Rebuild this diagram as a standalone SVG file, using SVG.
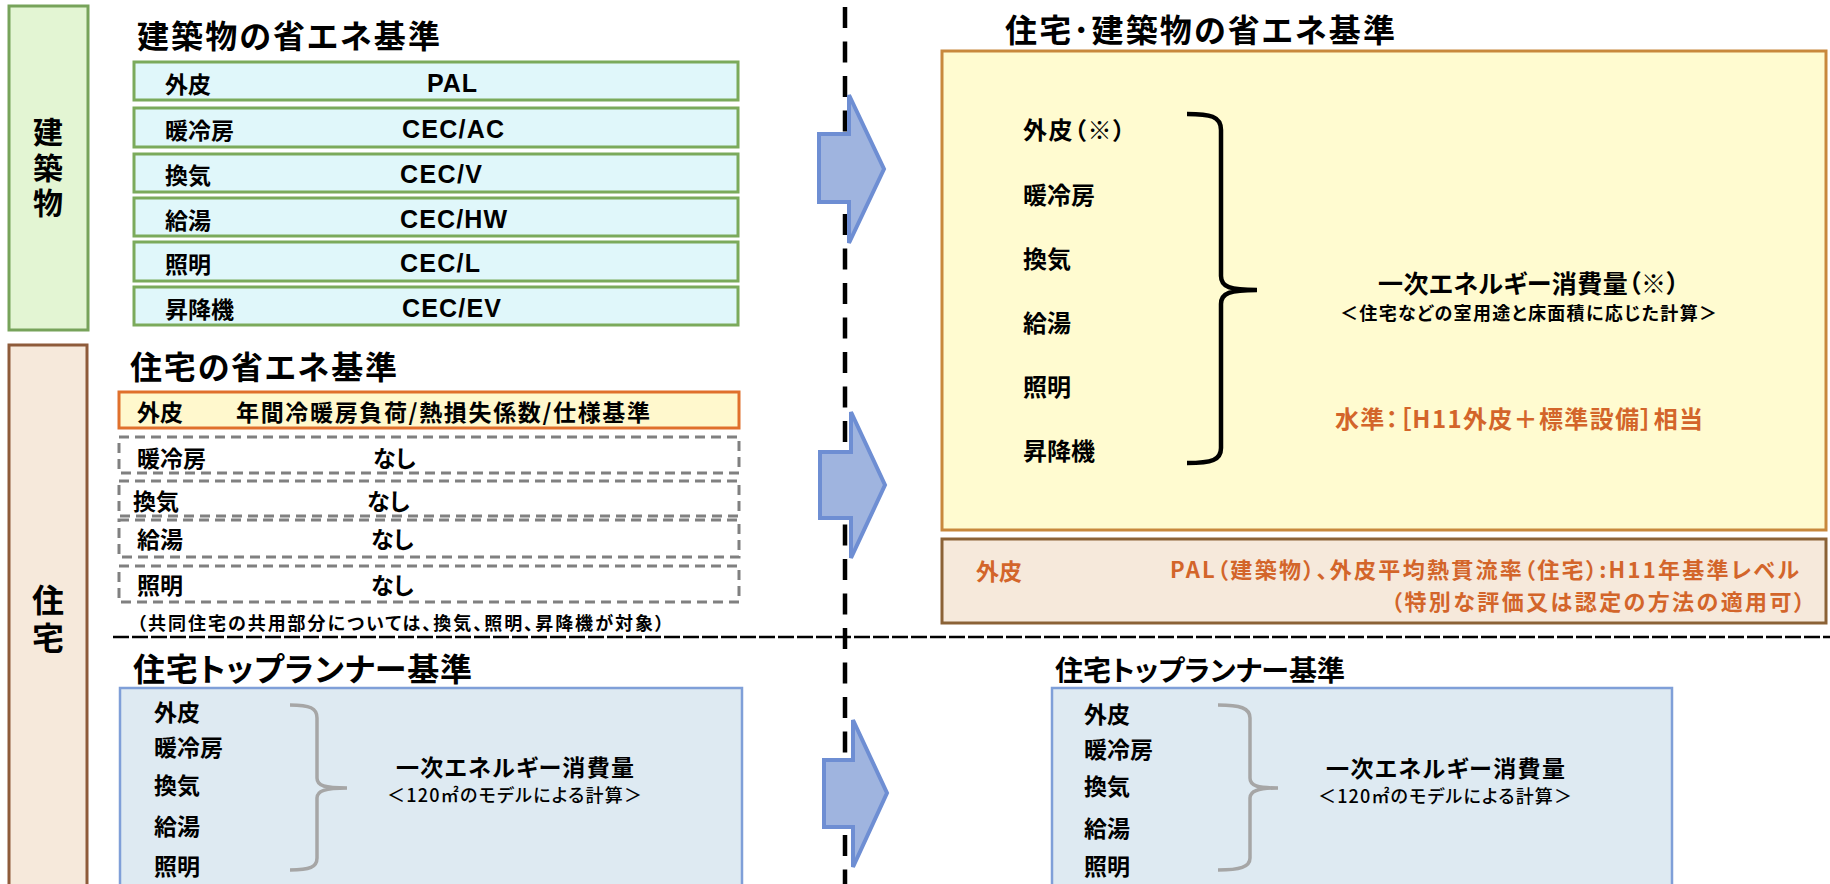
<svg xmlns="http://www.w3.org/2000/svg" width="1830" height="884" viewBox="0 0 1830 884">
<style>
text{font-family:'Noto Sans CJK JP','Noto Sans CJK SC',sans-serif;font-weight:700;fill:#000;dominant-baseline:central;font-feature-settings:"palt"}
.lat{font-family:'Liberation Sans',Arial,sans-serif;font-weight:700}
.or{fill:#D3652A}
.med{font-weight:500}
.title{font-size:32px}
.t22{font-size:22px}
.t23{font-size:23px}
.t24{font-size:24px}
.t18{font-size:18px}
.vert{writing-mode:vertical-rl;text-anchor:middle}
.grow{fill:#E0F7FA;stroke:#7BAA5B;stroke-width:3}
.drow{fill:#FFFFFF;stroke:#808080;stroke-width:3;stroke-dasharray:10 6}
.tbox{fill:#DEEAF2;stroke:#7F9FD8;stroke-width:2.5}
.gbrace{fill:none;stroke:#A6A6A6;stroke-width:3.5}
.arrow{fill:#9FB4DF;stroke:#6E8ED3;stroke-width:4;stroke-linejoin:miter}
</style>

<g id="label-building">
<rect x="9" y="6" width="79" height="324" fill="#E3F5D3" stroke="#77A35A" stroke-width="3"/>
<text class="vert" x="48" y="170" font-size="30" letter-spacing="5.5">建築物</text>
</g>

<g id="label-house">
<rect x="9" y="345" width="78" height="560" fill="#F6E9DB" stroke="#8E5B3A" stroke-width="3"/>
<text class="vert" x="48" y="622" font-size="32" letter-spacing="6">住宅</text>
</g>

<g id="dividers">
<line x1="845" y1="7" x2="845" y2="884" stroke="#000" stroke-width="4.5" stroke-dasharray="21 13.5"/>
<line x1="113" y1="637" x2="1830" y2="637" stroke="#000" stroke-width="2.5" stroke-dasharray="16 3"/>
</g>

<g id="building-standard">
<text class="title" x="137" y="34" textLength="303">建築物の省エネ基準</text>
<rect class="grow" x="134" y="62" width="604" height="38"/>
<rect class="grow" x="134" y="108" width="604" height="39"/>
<rect class="grow" x="134" y="154" width="604" height="38"/>
<rect class="grow" x="134" y="198" width="604" height="38"/>
<rect class="grow" x="134" y="242" width="604" height="39"/>
<rect class="grow" x="134" y="287" width="604" height="38"/>
<text class="t23" x="165" y="83">外皮</text>
<text class="t23" x="165" y="129">暖冷房</text>
<text class="t23" x="165" y="174">換気</text>
<text class="t23" x="165" y="219">給湯</text>
<text class="t23" x="165" y="263">照明</text>
<text class="t23" x="165" y="308">昇降機</text>
<text class="lat" font-size="25" x="427" y="83" textLength="50">PAL</text>
<text class="lat" font-size="25" x="402" y="129" textLength="102">CEC/AC</text>
<text class="lat" font-size="25" x="400" y="174" textLength="82">CEC/V</text>
<text class="lat" font-size="25" x="400" y="219" textLength="107">CEC/HW</text>
<text class="lat" font-size="25" x="400" y="263" textLength="80">CEC/L</text>
<text class="lat" font-size="25" x="402" y="308" textLength="99">CEC/EV</text>
</g>

<g id="house-standard">
<text class="title" x="130" y="365" textLength="267">住宅の省エネ基準</text>
<rect x="119" y="392" width="620" height="36" fill="#FFF8CD" stroke="#E0702C" stroke-width="3"/>
<text class="t23" x="137" y="411">外皮</text>
<text class="t23" x="236" y="411" textLength="414">年間冷暖房負荷/熱損失係数/仕様基準</text>
<rect class="drow" x="119" y="437" width="620" height="36"/>
<rect class="drow" x="119" y="481" width="620" height="35"/>
<rect class="drow" x="119" y="520" width="620" height="37"/>
<rect class="drow" x="119" y="566" width="620" height="36"/>
<text class="t23" x="137" y="457">暖冷房</text>
<text class="t23" x="373" y="457">なし</text>
<text class="t23" x="133" y="500">換気</text>
<text class="t23" x="367" y="500">なし</text>
<text class="t23" x="137" y="538">給湯</text>
<text class="t23" x="371" y="538">なし</text>
<text class="t23" x="137" y="584">照明</text>
<text class="t23" x="371" y="584">なし</text>
<text class="t18" x="137" y="622" textLength="527">（共同住宅の共用部分については、換気、照明、昇降機が対象）</text>
</g>

<g id="toprunner-left">
<text class="title" x="133" y="667" textLength="339">住宅トップランナー基準</text>
<rect class="tbox" x="120" y="688" width="622" height="220"/>
<text class="t23" x="154" y="711">外皮</text>
<text class="t23" x="154" y="746">暖冷房</text>
<text class="t23" x="154" y="784">換気</text>
<text class="t23" x="154" y="825">給湯</text>
<text class="t23" x="154" y="865">照明</text>
<path class="gbrace" d="M290,705 C310,705 317,708 317,718 L317,778 C317,786 325,788 347,788 C325,788 317,791 317,798 L317,858 C317,867 310,870 290,870"/>
<text class="t23" x="396" y="766" textLength="238">一次エネルギー消費量</text>
<text class="t18 med" x="387" y="794" textLength="255">＜120㎡のモデルによる計算＞</text>
</g>

<g id="integrated-standard">
<text class="title" x="1005" y="28" textLength="390">住宅･建築物の省エネ基準</text>
<rect x="942" y="51" width="884" height="479" fill="#FFFBD0" stroke="#C8883C" stroke-width="3"/>
<text class="t24" x="1023" y="128" textLength="102">外皮（※）</text>
<text class="t24" x="1023" y="193">暖冷房</text>
<text class="t24" x="1023" y="257">換気</text>
<text class="t24" x="1023" y="321">給湯</text>
<text class="t24" x="1023" y="385">照明</text>
<text class="t24" x="1023" y="449">昇降機</text>
<path d="M1187,114 C1210,114 1221,116 1221,130 L1221,276 C1221,287 1230,290 1257,290 C1230,290 1221,293 1221,304 L1221,448 C1221,460 1212,463 1187,463" fill="none" stroke="#000" stroke-width="4.5"/>
<text x="1378" y="282" font-size="25" textLength="301">一次エネルギー消費量（※）</text>
<text class="t18" x="1340" y="312" textLength="377">＜住宅などの室用途と床面積に応じた計算＞</text>
<text class="t24 or" x="1335" y="417" textLength="368">水準：［H11外皮＋標準設備］相当</text>
</g>

<g id="envelope-standard">
<rect x="942" y="539" width="884" height="84" fill="#F6E9DB" stroke="#8B6236" stroke-width="3"/>
<text class="t23 or" x="976" y="570">外皮</text>
<text class="t22 or" x="1170" y="568" textLength="629">PAL（建築物）、外皮平均熱貫流率（住宅）:H11年基準レベル</text>
<text class="t22 or" x="1391" y="600" textLength="414">（特別な評価又は認定の方法の適用可）</text>
</g>

<g id="toprunner-right">
<text x="1055" y="669" font-size="28" textLength="290">住宅トップランナー基準</text>
<rect class="tbox" x="1052" y="688" width="620" height="220"/>
<text class="t23" x="1084" y="713">外皮</text>
<text class="t23" x="1084" y="748">暖冷房</text>
<text class="t23" x="1084" y="785">換気</text>
<text class="t23" x="1084" y="827">給湯</text>
<text class="t23" x="1084" y="865">照明</text>
<path class="gbrace" d="M1218,705 C1240,705 1250,708 1250,718 L1250,778 C1250,786 1258,788 1278,788 C1258,788 1250,791 1250,798 L1250,858 C1250,867 1240,870 1218,870"/>
<text class="t23" x="1326" y="767" textLength="239">一次エネルギー消費量</text>
<text class="t18 med" x="1318" y="795" textLength="254">＜120㎡のモデルによる計算＞</text>
</g>

<g id="connectors">
<polygon class="arrow" points="819,134 849,134 849,95 884,169 849,243 849,202 819,202"/>
<polygon class="arrow" points="820,452 851,452 851,412 885,485 851,558 851,518 820,518"/>
<polygon class="arrow" points="824,760 853,760 853,720 887,793 853,867 853,827 824,827"/>
</g>
</svg>
